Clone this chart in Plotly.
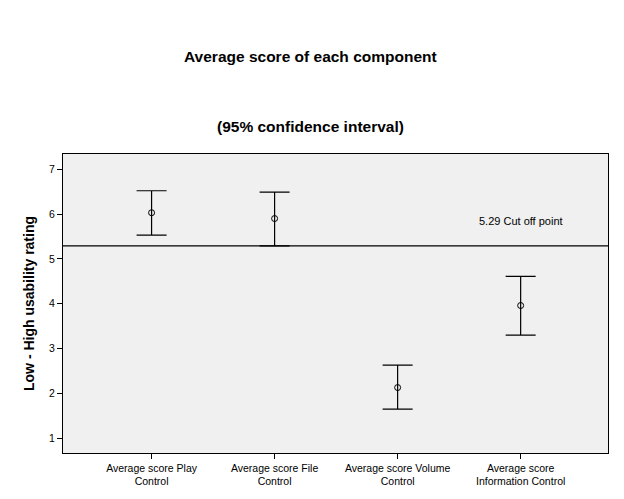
import plotly.graph_objs as go

## values (means with 95% CI limits)
components = ['Average score Play<br>Control', 'Average score File<br>Control',
              'Average score Volume<br>Control', 'Average score<br>Information Control']
means = [6.03, 5.90, 2.13, 3.96]
upper = [6.52, 6.49, 2.63, 4.61]
lower = [5.53, 5.29, 1.65, 3.30]
cutoff = 5.29
yticks = [1, 2, 3, 4, 5, 6, 7]

err_plus = [u - m for u, m in zip(upper, means)]
err_minus = [m - l for m, l in zip(means, lower)]
xpos = list(range(len(components)))

fig = go.Figure()
fig.add_trace(go.Scatter(x=xpos, y=means, mode='markers',
                         marker=dict(symbol='circle-open', size=6, color='black', line=dict(width=1)),
                         error_y=dict(type='data', symmetric=False, array=err_plus, arrayminus=err_minus,
                                      color='black', thickness=1.2, width=15),
                         showlegend=False, hoverinfo='skip'))

# cut off line across the plot
fig.add_shape(type='line', xref='paper', x0=0, x1=1, yref='y', y0=cutoff, y1=cutoff,
              line=dict(color='black', width=1.2))
fig.add_annotation(x=3, y=cutoff, xref='x', yref='y', text=f'{cutoff} Cut off point', showarrow=False,
                   yanchor='bottom', yshift=17, font=dict(size=11, color='black'))

# two line title, centred on the page (not on the plot area)
fig.add_annotation(x=0.454, y=1, xref='paper', yref='paper', yanchor='bottom', yshift=87,
                   text='<b>Average score of each component</b>', showarrow=False,
                   font=dict(size=15.5, color='black'))
fig.add_annotation(x=0.454, y=1, xref='paper', yref='paper', yanchor='bottom', yshift=17,
                   text='<b>(95% confidence interval)</b>', showarrow=False,
                   font=dict(size=15.5, color='black'))

fig.update_xaxes(tickvals=xpos, ticktext=components, range=[-0.72, 3.71], showgrid=False, zeroline=False,
                 ticks='outside', ticklen=5, tickcolor='black', showline=True, linecolor='black', linewidth=1,
                 mirror=True, tickfont=dict(size=10.5, color='black'))
fig.update_yaxes(title_text='<b>Low - High usability rating</b>', title_font=dict(size=14, color='black'),
                 title_standoff=11, tickvals=yticks, range=[0.67, 7.34], showgrid=False, zeroline=False,
                 ticks='outside', ticklen=5, tickcolor='black', showline=True, linecolor='black', linewidth=1,
                 mirror=True, tickfont=dict(size=10.5, color='black'))

# page body has an 8px margin, so the figure is shrunk and shifted to match
fig.update_layout(width=616, height=491, margin=dict(l=55, r=16, t=146, b=46),
                  plot_bgcolor='#F0F0F0', paper_bgcolor='white',
                  font=dict(family='Liberation Sans', color='black'))

fig.write_html("out.html")
